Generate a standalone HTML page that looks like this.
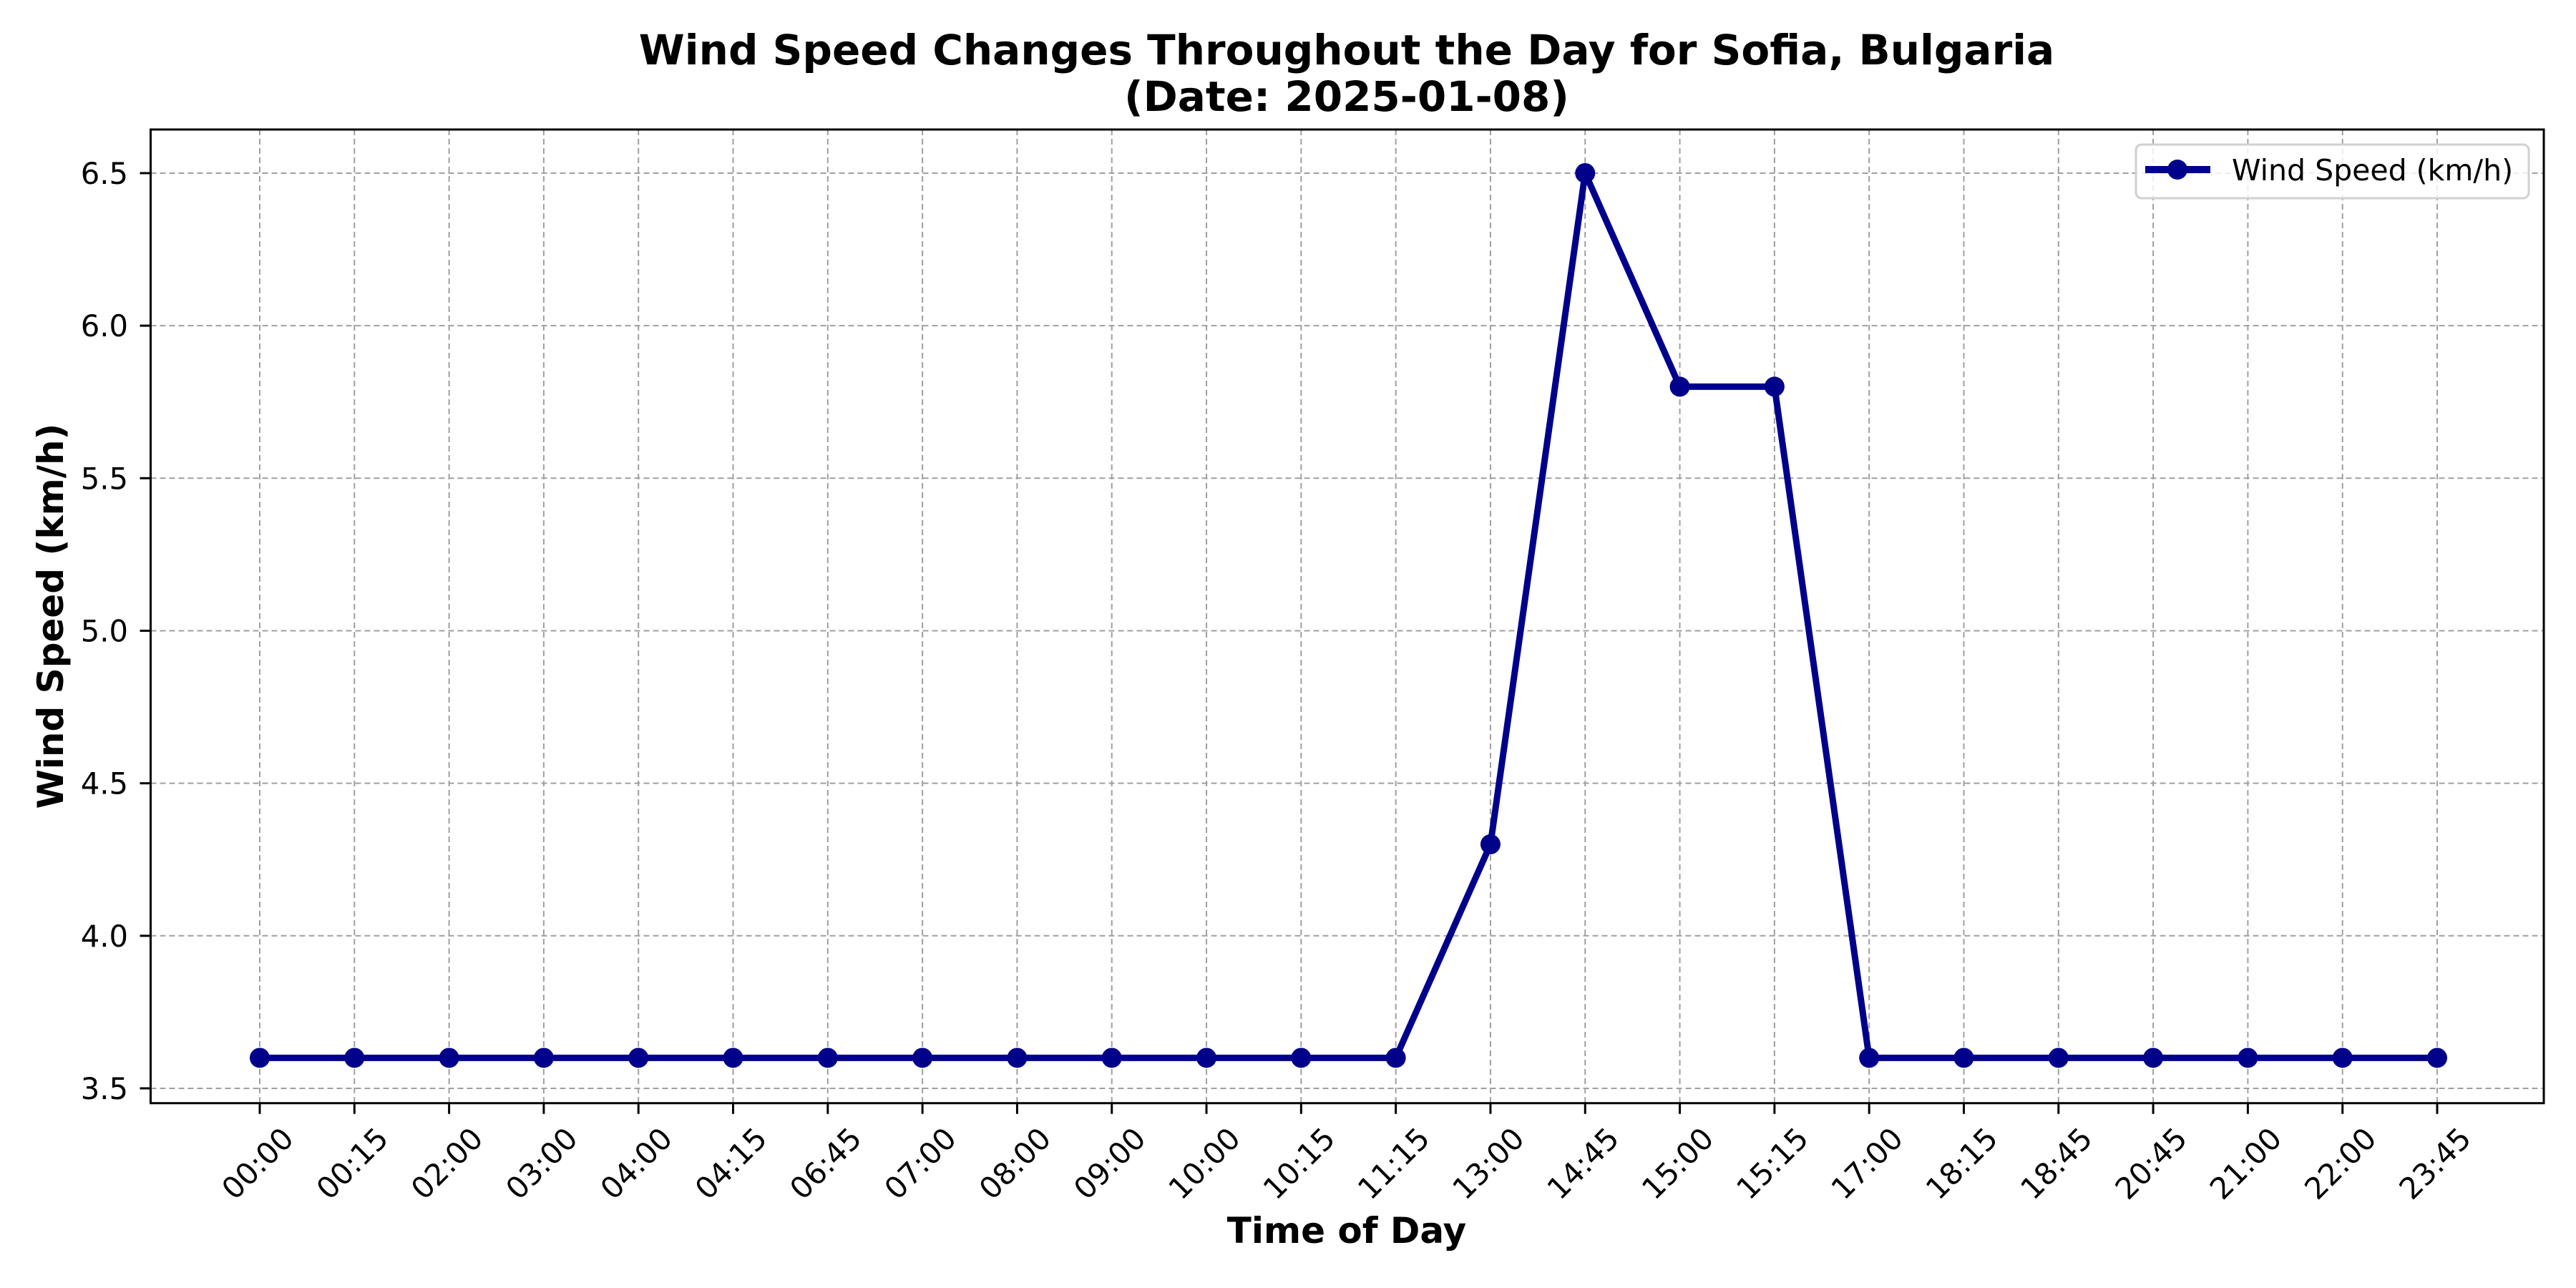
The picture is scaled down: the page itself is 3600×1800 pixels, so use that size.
<!DOCTYPE html>
<html><head><meta charset="utf-8"><style>html,body{margin:0;padding:0;background:#fff}svg{display:block}text{font-family:"DejaVu Sans","Liberation Sans",sans-serif}</style></head>
<body>
<svg id="chart" width="3600" height="1800" xmlns="http://www.w3.org/2000/svg">
<rect width="3600" height="1800" fill="#fff"/>
<text x="1882" y="90" font-size="58" font-weight="bold" text-anchor="middle">Wind Speed Changes Throughout the Day for Sofia, Bulgaria</text>
<text x="1882" y="155" font-size="58" font-weight="bold" text-anchor="middle">(Date: 2025-01-08)</text>
<g id="grid"></g><g id="axes"></g><g id="series"></g>
<text x="1882" y="1737" font-size="50" font-weight="bold" text-anchor="middle">Time of Day</text>
<text x="0" y="0" font-size="50" font-weight="bold" text-anchor="middle" transform="translate(88,861) rotate(-90)">Wind Speed (km/h)</text>
<g>
<rect x="2985" y="202" width="549" height="75" rx="8" fill="#fff" fill-opacity="0.8" stroke="#d0d0d0" stroke-width="3"/>
<line x1="2998" y1="237" x2="3089" y2="237" stroke="#00008b" stroke-width="10"/>
<circle cx="3043" cy="237" r="14" fill="#00008b"/>
<text x="3119" y="252" font-size="41">Wind Speed (km/h)</text>
</g>
</svg>
<script>
const categories=["00:00","00:15","02:00","03:00","04:00","04:15","06:45","07:00","08:00","09:00","10:00","10:15","11:15","13:00","14:45","15:00","15:15","17:00","18:15","18:45","20:45","21:00","22:00","23:45"];
const windSpeed=[3.6,3.6,3.6,3.6,3.6,3.6,3.6,3.6,3.6,3.6,3.6,3.6,3.6,4.3,6.5,5.8,5.8,3.6,3.6,3.6,3.6,3.6,3.6,3.6];
const yTicks=[3.5,4.0,4.5,5.0,5.5,6.0,6.5];
const yTickLabels=["3.5","4.0","4.5","5.0","5.5","6.0","6.5"];

const L=210.5,R=3555,T=181,B=1541.7;
const yMin=3.4514,yMax=6.643;
const n=categories.length;
const pad=(3406-363)/(n-1);
function xs(i){return 363+i*pad;}
function ys(v){return B-(v-yMin)/(yMax-yMin)*(B-T);}
const NS="http://www.w3.org/2000/svg";
function mk(tag,attrs,parent){const e=document.createElementNS(NS,tag);for(const k in attrs)e.setAttribute(k,attrs[k]);parent.appendChild(e);return e;}
const grid=document.getElementById('grid'),axes=document.getElementById('axes'),series=document.getElementById('series');
categories.forEach((c,i)=>{
  const x=xs(i);
  const g=mk('line',{x1:x,y1:T,x2:x,y2:B,stroke:'#a0a0a0','stroke-width':2,'stroke-dasharray':'8,5'},grid);
  
  
  const t=mk('line',{x1:x,y1:B,x2:x,y2:B+15,stroke:'#000','stroke-width':3},axes);
  
  
  const lb=mk('text',{x:0,y:0,'font-size':41.7,'text-anchor':'middle','dominant-baseline':'central',transform:`translate(${x-3},1626) rotate(-45)`},axes);
  lb.textContent=c;
  
  
});
yTicks.forEach((v,i)=>{
  const y=ys(v);
  const g=mk('line',{x1:L,y1:y,x2:R,y2:y,stroke:'#a0a0a0','stroke-width':2,'stroke-dasharray':'8,5'},grid);
  
  
  const t=mk('line',{x1:L-15,y1:y,x2:L,y2:y,stroke:'#000','stroke-width':3},axes);
  
  
  const lb=mk('text',{x:179,y:y+15,'font-size':41.7,'text-anchor':'end'},axes);
  lb.textContent=yTickLabels[i];
  
  
});
const frame=mk('rect',{x:L,y:T,width:R-L,height:B-T,fill:'none',stroke:'#000','stroke-width':3},axes);


const pts=windSpeed.map((v,i)=>xs(i)+','+ys(v)).join(' ');
const line=mk('polyline',{points:pts,fill:'none',stroke:'#00008b','stroke-width':9,'stroke-linejoin':'round'},series);


windSpeed.forEach((v,i)=>{
  const c=mk('circle',{cx:xs(i),cy:ys(v),r:14,fill:'#00008b'},series);
  
  
});
</script>
</body></html>
